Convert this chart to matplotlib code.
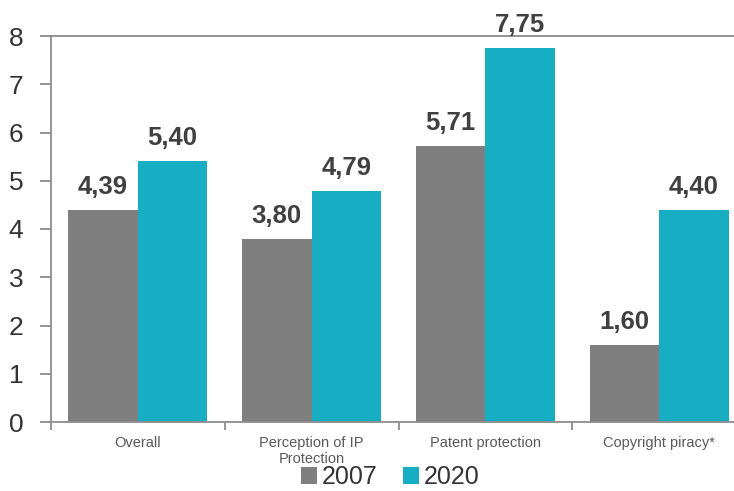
import matplotlib
matplotlib.use("Agg")
import matplotlib.pyplot as plt
import numpy as np

categories = ["Overall", "Perception of IP\nProtection", "Patent protection", "Copyright piracy*"]
years = ["2007", "2020"]
values_2007 = [4.39, 3.80, 5.71, 1.60]
values_2020 = [5.40, 4.79, 7.75, 4.40]
colors = ["#7f7f7f", "#17adc3"]

plt.rcParams['font.family'] = ['Liberation Sans', 'DejaVu Sans']

fig = plt.figure(figsize=(7.34, 4.91), dpi=100)
ax = fig.add_axes([51 / 734, 1 - 422 / 491, (746 - 51) / 734, 386 / 491])

x = np.arange(len(categories))
w = 0.4
series = [values_2007, values_2020]
for i, vals in enumerate(series):
    bars = ax.bar(x + (i - 0.5) * w, vals, width=w, color=colors[i], label=years[i])
    for b, v in zip(bars, vals):
        ax.annotate(f"{v:.2f}".replace(".", ","),
                    xy=(b.get_x() + b.get_width() / 2, v), xytext=(0, 8),
                    textcoords="offset points", ha="center", va="bottom",
                    fontsize=18.5, fontweight="bold", color="#404040")

ax.set_xlim(-0.5, 3.5)
ax.set_ylim(0, 8)
ax.set_yticks(range(0, 9))
ax.tick_params(axis='y', labelsize=19, labelcolor="#333333", color="#8c8c8c",
               length=8, width=1.3, pad=12)

ax.set_xticks(x)
ax.set_xticklabels(categories, fontsize=10.5, color="#595959", linespacing=1.2)
ax.set_xticks(np.arange(-0.5, 4.0, 1.0), minor=True)
ax.tick_params(axis='x', which='major', length=0, pad=10)
ax.tick_params(axis='x', which='minor', length=6, width=1.3, color="#8c8c8c")

ax.spines["right"].set_visible(False)
for s in ["left", "bottom", "top"]:
    ax.spines[s].set_color("#8c8c8c")
    ax.spines[s].set_linewidth(1.3)

leg = ax.legend(loc="lower center", bbox_to_anchor=(390 / 734, 0.004),
                bbox_transform=fig.transFigure, ncol=2, frameon=False,
                fontsize=18, handlelength=0.65, handleheight=0.65,
                handletextpad=0.2, columnspacing=1.0, borderaxespad=0.0,
                borderpad=0.0)
for t in leg.get_texts():
    t.set_color("#333333")

fig.savefig("out.png", dpi=100)
